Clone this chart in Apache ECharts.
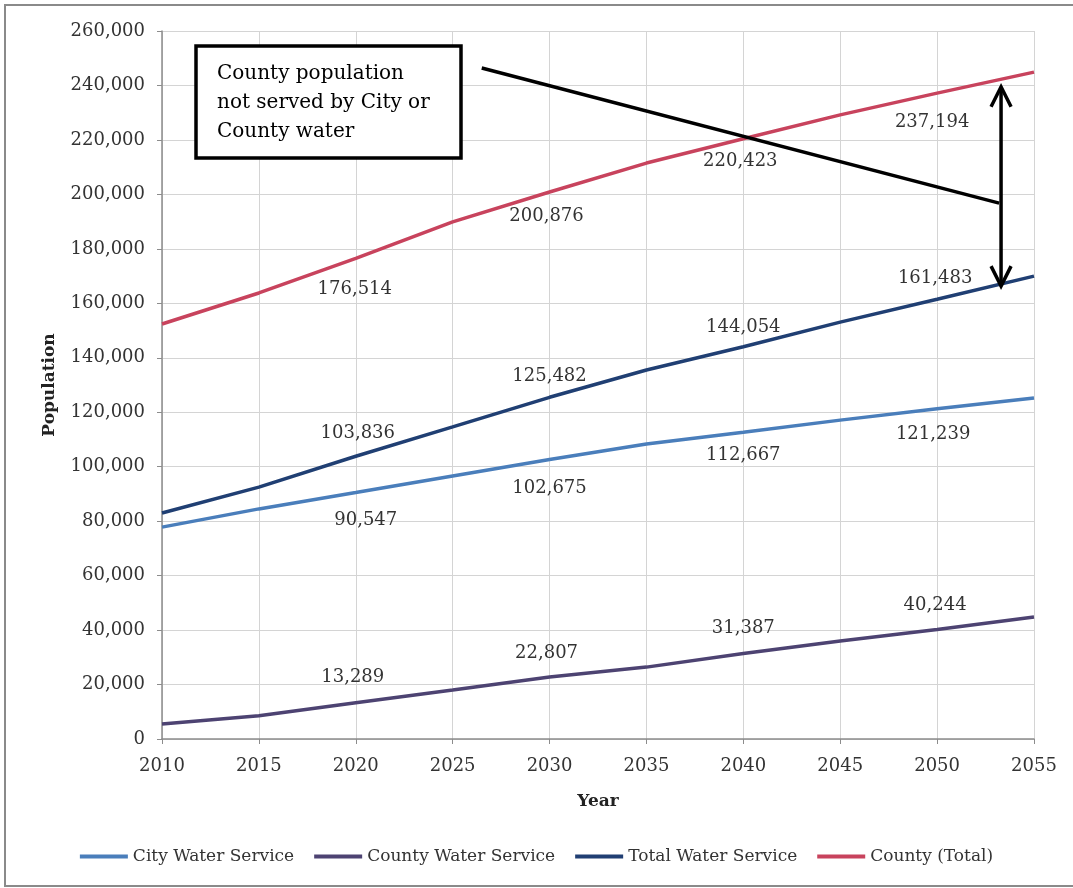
<!DOCTYPE html>
<html>
<head>
<meta charset="utf-8">
<script src="https://cdn.jsdelivr.net/npm/echarts@6/dist/echarts.min.js"></script>
<style>
  html, body { margin: 0; padding: 0; background: #ffffff; }
  #chart { width: 1073px; height: 888px; }
</style>
</head>
<body>
<div id="chart"></div>
<script>
// ---- Data ----
const years = [2010, 2015, 2020, 2025, 2030, 2035, 2040, 2045, 2050, 2055];
const cityWater   = [77800, 84500, 90547, 96600, 102675, 108300, 112667, 117100, 121239, 125200];
const countyWater = [5500, 8500, 13289, 18000, 22807, 26400, 31387, 36000, 40244, 44800];
const totalWater  = [83000, 92500, 103836, 114600, 125482, 135500, 144054, 153100, 161483, 170000];
const countyTotal = [152400, 163800, 176514, 189900, 200876, 211500, 220423, 229200, 237194, 244900];
const labelYears = [2020, 2030, 2040, 2050];
const seriesNames = ['City Water Service', 'County Water Service', 'Total Water Service', 'County (Total)'];
const annotationText = ['County population', 'not served by City or', 'County water'];
// annotation geometry in data coordinates [year, population]
const pointerLine = [[2026.5, 246400], [2053.2, 196800]];
const gapArrow = [[2053.3, 239500], [2053.3, 166300]];

// label pixel nudges per series (style only), indexed like labelYears
const labelNudge = {
  city:   [[10, 6], [0, 7], [0, 1], [-4, 3]],
  county: [[-3, -3], [-3, -2], [0, -3], [-2, -2]],
  total:  [[2, -1], [0, 1], [0, 3], [-2, 1]],
  red:    [[-1, 9], [-3, 2], [-3, 1], [-5, 7]]
};

const FONT = 'DejaVu Serif';
const colors = ['#4a7ebb', '#4d4372', '#203f73', '#c8435d'];

function fmt(v) { return v.toLocaleString('en-US'); }

function buildData(vals, pos, nudge) {
  return years.map((y, i) => {
    const d = { value: [y, vals[i]] };
    const k = labelYears.indexOf(y);
    if (k >= 0) {
      d.label = { show: true, position: pos, distance: 13, offset: nudge[k] };
    }
    return d;
  });
}

const labelStyle = {
  show: false,
  fontFamily: FONT, fontSize: 18, color: '#333333',
  formatter: p => fmt(p.value[1])
};

function mkSeries(name, vals, color, pos, nudge) {
  return {
    name: name, type: 'line', data: buildData(vals, pos, nudge),
    symbol: 'circle', symbolSize: 0, showSymbol: true,
    lineStyle: { color: color, width: 3.5 },
    itemStyle: { color: color },
    label: labelStyle,
    emphasis: { disabled: true },
    animation: false
  };
}

const chart = echarts.init(document.getElementById('chart'), null, { renderer: 'canvas' });

const option = {
  animation: false,
  backgroundColor: '#ffffff',
  grid: { left: 162, right: 39, top: 31, bottom: 149 },
  xAxis: {
    type: 'value', min: 2010, max: 2055, interval: 5,
    name: 'Year', nameLocation: 'middle', nameGap: 54,
    nameTextStyle: { fontFamily: FONT, fontSize: 17, fontWeight: 'bold', color: '#222' },
    axisLine: { show: true, lineStyle: { color: '#8c8c8c', width: 1.5 } },
    axisTick: { show: true, length: 5, lineStyle: { color: '#8c8c8c' } },
    axisLabel: { fontFamily: FONT, fontSize: 18, color: '#333', margin: 18, formatter: v => String(v) },
    splitLine: { show: true, lineStyle: { color: '#d4d4d4', width: 1 } }
  },
  yAxis: {
    type: 'value', min: 0, max: 260000, interval: 20000,
    name: 'Population', nameLocation: 'middle', nameGap: 104, nameRotate: 90,
    nameTextStyle: { fontFamily: FONT, fontSize: 17, fontWeight: 'bold', color: '#222' },
    axisLine: { show: true, lineStyle: { color: '#8c8c8c', width: 1.5 } },
    axisTick: { show: true, length: 5, lineStyle: { color: '#8c8c8c' } },
    axisLabel: { fontFamily: FONT, fontSize: 18, color: '#333', margin: 17, formatter: v => fmt(v) },
    splitLine: { show: true, lineStyle: { color: '#d4d4d4', width: 1 } }
  },
  legend: {
    bottom: 18, left: 'center',
    icon: 'rect', itemWidth: 48, itemHeight: 4, itemGap: 20,
    textStyle: { fontFamily: FONT, fontSize: 17, color: '#333' },
    data: seriesNames
  },
  series: [
    mkSeries(seriesNames[0], cityWater, colors[0], 'bottom', labelNudge.city),
    mkSeries(seriesNames[1], countyWater, colors[1], 'top', labelNudge.county),
    mkSeries(seriesNames[2], totalWater, colors[2], 'top', labelNudge.total),
    mkSeries(seriesNames[3], countyTotal, colors[3], 'bottom', labelNudge.red)
  ]
};
chart.setOption(option);

// ---- Annotations ----
const p0 = chart.convertToPixel({ gridIndex: 0 }, pointerLine[0]);
const p1 = chart.convertToPixel({ gridIndex: 0 }, pointerLine[1]);
const a0 = chart.convertToPixel({ gridIndex: 0 }, gapArrow[0]);
const a1 = chart.convertToPixel({ gridIndex: 0 }, gapArrow[1]);
const ah = 10, av = 20;
const blk = { stroke: '#000', lineWidth: 3.5, fill: null };

chart.setOption({
  graphic: [
    { type: 'rect', shape: { x: 5, y: 5, width: 1300, height: 881 },
      style: { stroke: '#8a8a8a', lineWidth: 2, fill: null }, silent: true, z: 0 },
    { type: 'rect', shape: { x: 196, y: 46, width: 265, height: 112 },
      style: { stroke: '#000', lineWidth: 3.5, fill: '#fff' }, z: 10 },
    { type: 'text', x: 217, y: 59, z: 11,
      style: { text: annotationText.join('\n'), fontFamily: FONT, fontSize: 20, lineHeight: 29, fill: '#000' } },
    { type: 'line', shape: { x1: p0[0], y1: p0[1], x2: p1[0], y2: p1[1] }, style: blk, z: 10 },
    { type: 'line', shape: { x1: a0[0], y1: a0[1], x2: a1[0], y2: a1[1] }, style: blk, z: 10 },
    { type: 'polyline', shape: { points: [[a0[0] - ah, a0[1] + av], [a0[0], a0[1]], [a0[0] + ah, a0[1] + av]] }, style: blk, z: 10 },
    { type: 'polyline', shape: { points: [[a1[0] - ah, a1[1] - av], [a1[0], a1[1]], [a1[0] + ah, a1[1] - av]] }, style: blk, z: 10 }
  ]
});
</script>
</body>
</html>
